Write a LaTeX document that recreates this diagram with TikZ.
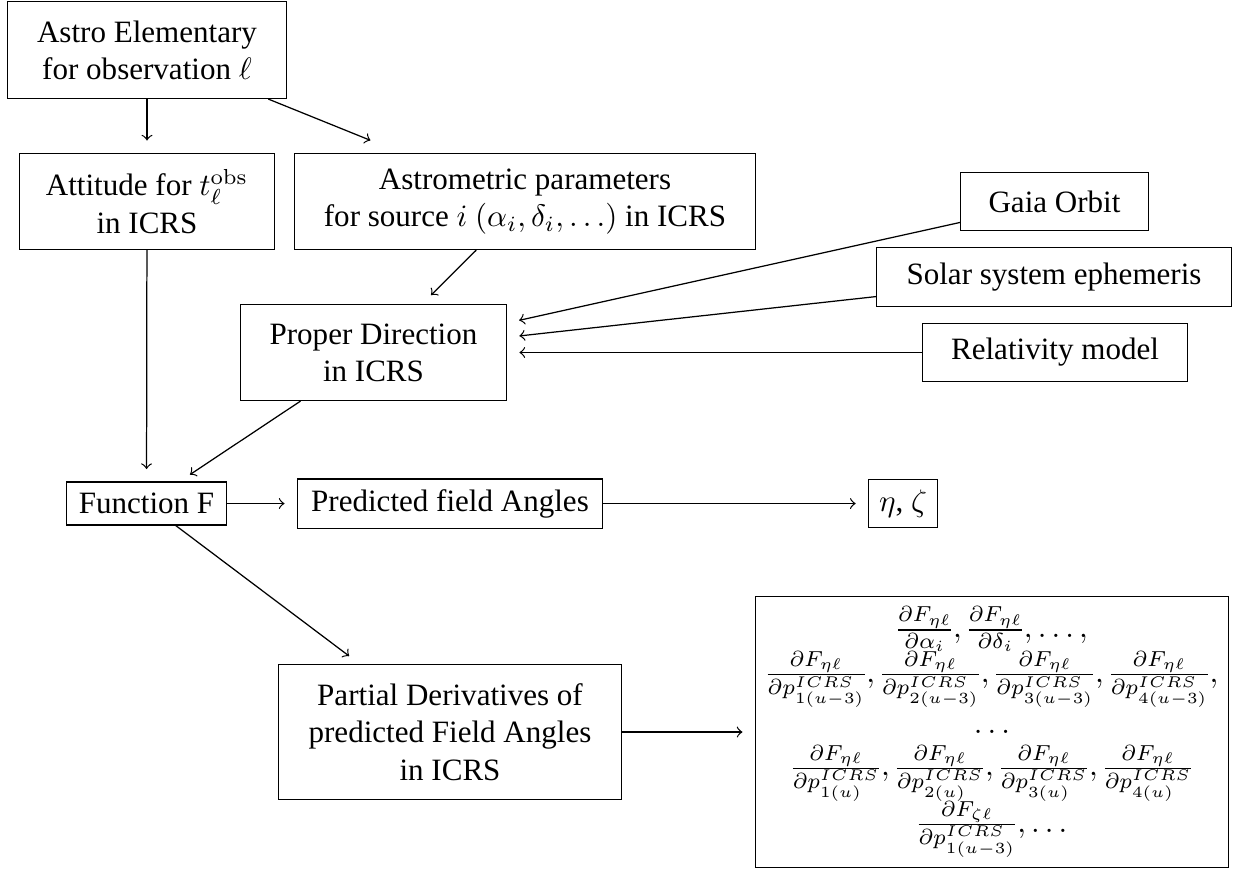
\documentclass[tikz,border=0pt]{standalone}
\usepackage[no-math]{fontspec}
\setmainfont{Liberation Serif}
\usetikzlibrary{calc}
\begin{document}
\begin{tikzpicture}[x=0.3221pt,y=-0.3221pt,
  box/.style={draw,align=center,inner sep=3.33pt},
  arr/.style={->,shorten >=4pt}]
\useasboundingbox (0,0) rectangle (1233,868);

% boxes of the processing chain
\node[box,minimum width=89.8pt,minimum height=31.2pt] (astro) at (147,50)
  {Astro Elementary\\for observation $\ell$};
\node[box,minimum width=82.1pt,minimum height=30.9pt] (att) at (147,201.5)
  {Attitude for $t_\ell^{\mathrm{obs}}$\\in ICRS};
\node[box,minimum width=148.4pt,minimum height=30.9pt] (astrom) at (525,201.5)
  {Astrometric parameters\\for source $i$ $(\alpha_i,\delta_i,\ldots)$ in ICRS};
\node[box,minimum width=60.5pt,minimum height=18.6pt] (gaia) at (1054.5,201.5)
  {Gaia Orbit};
\node[box,minimum width=114.3pt,minimum height=18.9pt] (solar) at (1054,277)
  {Solar system ephemeris};
\node[box,minimum width=85.3pt,minimum height=18.6pt] (rel) at (1055,352.5)
  {Relativity model};
\node[box,minimum width=85.6pt,minimum height=30.9pt] (pd) at (373.5,352.5)
  {Proper Direction\\in ICRS};
\node[box,minimum width=51.5pt,minimum height=13.8pt] (fF) at (146.5,503.5)
  {Function F};
\node[box,minimum width=98.2pt,minimum height=15.4pt] (pred) at (450,503.5)
  {Predicted field Angles};
\node[box,minimum width=22.1pt,minimum height=15.4pt] (eta) at (903,503.5)
  {$\eta$, $\zeta$};
\node[box,minimum width=110.4pt,minimum height=43.7pt] (partial) at (450,732)
  {Partial Derivatives of\\predicted Field Angles\\in ICRS};
\node[box,minimum width=151pt,minimum height=86.6pt] (big) at (992,732)
  {\nulldelimiterspace=0.6pt
   \begin{tabular}{@{}c@{}}
   $\frac{\partial F_{\eta\ell}}{\partial\alpha_i}, \frac{\partial F_{\eta\ell}}{\partial\delta_i}, \ldots,$\\
   $\frac{\partial F_{\eta\ell}}{\partial p^{ICRS}_{1(u-3)}}, \frac{\partial F_{\eta\ell}}{\partial p^{ICRS}_{2(u-3)}}, \frac{\partial F_{\eta\ell}}{\partial p^{ICRS}_{3(u-3)}}, \frac{\partial F_{\eta\ell}}{\partial p^{ICRS}_{4(u-3)}},$\\
   $\ldots$\\
   $\frac{\partial F_{\eta\ell}}{\partial p^{ICRS}_{1(u)}}, \frac{\partial F_{\eta\ell}}{\partial p^{ICRS}_{2(u)}}, \frac{\partial F_{\eta\ell}}{\partial p^{ICRS}_{3(u)}}, \frac{\partial F_{\eta\ell}}{\partial p^{ICRS}_{4(u)}}$\\
   $\frac{\partial F_{\zeta\ell}}{\partial p^{ICRS}_{1(u-3)}}, \ldots$
   \end{tabular}};

% arrow ends that do not sit at a node centre
\coordinate (aend) at (382,145);
\coordinate (gA) at ($(pd.east)+(0,9.5pt)$);
\coordinate (gS) at ($(pd.east)+(0,4.9pt)$);

% connectors
\draw[arr] (astro) -- (att);
\draw[arr] (astro) -- (aend);
\draw[arr] (astrom) -- (pd);
\draw[arr] (gaia) -- (gA);
\draw[arr] (solar) -- (gS);
\draw[arr] (rel) -- (pd);
\draw[arr] (att) -- (fF);
\draw[arr] (pd) -- (fF);
\draw[arr] (fF) -- (pred);
\draw[arr] (pred) -- (eta);
\draw[arr] (fF) -- (partial);
\draw[arr] (partial) -- (big);
\end{tikzpicture}
\end{document}
